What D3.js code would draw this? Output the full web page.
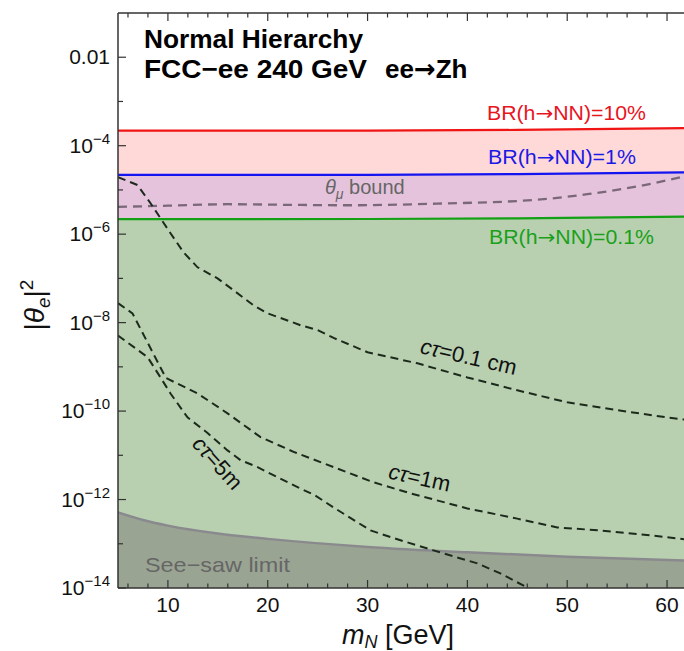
<!DOCTYPE html>
<html><head><meta charset="utf-8">
<script src="https://cdn.jsdelivr.net/npm/d3@7"></script>
<style>
body{margin:0;background:#fff}
svg{display:block}
text{font-family:"Liberation Sans",Arial,Helvetica,sans-serif}
.arr{font-family:"DejaVu Sans",sans-serif}
</style>
</head><body>
<svg id="chart" width="684" height="651"></svg>
<script>
// ---------------- data ----------------
const massBR = [5, 30, 45, 62];
const br10pct = [2.19e-4, 2.2e-4, 2.27e-4, 2.5e-4];
const br1pct = [2.19e-5, 2.2e-5, 2.27e-5, 2.5e-5];
const br01pct = [2.19e-6, 2.2e-6, 2.27e-6, 2.5e-6];

const massThetaMu = [5, 10, 16, 22, 28, 37, 47, 52, 57, 62];
const thetaMuBound = [4.15e-6, 4.4e-6, 4.75e-6, 4.6e-6, 4.5e-6, 4.9e-6, 6.0e-6, 8.0e-6, 1.2e-5, 2.1e-5];

const massSeesaw = [5, 7.5, 10, 15, 20, 30, 40, 50, 62];
const seesawLimit = [5.1e-13, 3.45e-13, 2.57e-13, 1.7e-13, 1.29e-13, 8.5e-14, 6.4e-14, 5.1e-14, 4.15e-14];

const massCt01cm = [5, 6.95, 8.26, 9.26, 10.26, 11.56, 12.97, 14.97, 16.57, 18.58, 19.98, 21.98, 23.3, 25, 26.6, 30, 35, 40, 45, 50, 55, 60, 62];
const ct01cm = [1.95e-5, 1.29e-5, 5.0e-6, 2.29e-6, 1.05e-6, 3.9e-7, 1.78e-7, 1.0e-7, 5.4e-8, 2.45e-8, 1.62e-8, 1.12e-8, 8.7e-9, 6.8e-9, 4.5e-9, 2.14e-9, 1.2e-9, 5.75e-10, 2.95e-10, 1.58e-10, 1.05e-10, 7.2e-11, 6.3e-11];

const massCt1m = [5, 6.45, 9.8, 12.97, 15.97, 19.28, 22.7, 26.6, 30.6, 34.3, 40, 45, 49, 53.3, 58.3, 62];
const ct1m = [2.75e-8, 1.62e-8, 5.6e-10, 2.5e-10, 8.9e-11, 2.57e-11, 1.17e-11, 5.4e-12, 2.45e-12, 1.38e-12, 6.3e-13, 3.7e-13, 2.34e-13, 2.0e-13, 1.55e-13, 1.24e-13];

const massCt5m = [5, 7.96, 9.26, 10.26, 11.96, 13.97, 15.97, 17.27, 18.98, 20.98, 22.99, 24.7, 26.6, 30.3, 33.3, 36.6, 41, 43.3, 46, 47];
const ct5m = [5.1e-9, 1.66e-9, 5.75e-10, 2.5e-10, 7.2e-11, 3.2e-11, 1.29e-11, 7.8e-12, 5.4e-12, 3.2e-12, 1.9e-12, 1.26e-12, 6.6e-13, 2.0e-13, 1.2e-13, 7.1e-14, 3.6e-14, 2.14e-14, 1.02e-14, 8e-15];

const xTicksMajor = [10, 20, 30, 40, 50, 60];
const xTicksMinor = [6, 8, 12, 14, 16, 18, 22, 24, 26, 28, 32, 34, 36, 38, 42, 44, 46, 48, 52, 54, 56, 58, 62];
const yTickExponents = [-2, -4, -6, -8, -10, -12, -14];
const yMinorExponents = [-3, -5, -7, -9, -11, -13];

// ---------------- layout ----------------
const svg = d3.select("#chart");
const L = 118, T = 13, B = 588, R = 687;
const x = d3.scaleLinear().domain([5, 62]).range([L, R]);
const y = d3.scaleLog().domain([1e-14, 1e-1]).range([B, T]);

svg.append("defs").append("clipPath").attr("id", "clip")
  .append("rect").attr("x", L).attr("y", T).attr("width", R - L).attr("height", B - T);

const plot = svg.append("g").attr("clip-path", "url(#clip)");

const zip = (ms, vs) => ms.map((m, i) => [m, vs[i]]);
const line = d3.line().x(d => x(d[0])).y(d => y(d[1]));
const smooth = d3.line().x(d => x(d[0])).y(d => y(d[1])).curve(d3.curveMonotoneX);
const areaDown = d3.area().x(d => x(d[0])).y0(B + 5).y1(d => y(d[1]));
const areaDownSmooth = d3.area().x(d => x(d[0])).y0(B + 5).y1(d => y(d[1])).curve(d3.curveMonotoneX);

// bands
plot.append("path").attr("d", areaDown(zip(massBR, br10pct))).attr("fill", "#ffd8d8");
plot.append("path").attr("d", areaDown(zip(massBR, br1pct))).attr("fill", "#e5c3dc");
plot.append("path").attr("d", areaDown(zip(massBR, br01pct))).attr("fill", "#b8d0b0");

// see-saw
plot.append("path").attr("d", areaDownSmooth(zip(massSeesaw, seesawLimit))).attr("fill", "#9aa493");
plot.append("path").attr("d", smooth(zip(massSeesaw, seesawLimit)))
  .attr("fill", "none").attr("stroke", "#8a8a8e").attr("stroke-width", 2.5);

// theta_mu bound
plot.append("path").attr("d", smooth(zip(massThetaMu, thetaMuBound)))
  .attr("fill", "none").attr("stroke", "#7a6878").attr("stroke-width", 2.3)
  .attr("stroke-dasharray", "9,6");

// c tau curves
[[massCt01cm, ct01cm], [massCt1m, ct1m], [massCt5m, ct5m]].forEach(([ms, vs]) => {
  plot.append("path").attr("d", line(zip(ms, vs)))
    .attr("fill", "none").attr("stroke", "#1c2a1c").attr("stroke-width", 2)
    .attr("stroke-dasharray", "8,5");
});

// BR lines
[[br10pct, "#f01414"], [br1pct, "#1414f0"], [br01pct, "#14a014"]].forEach(([vs, c]) => {
  plot.append("path").attr("d", line(zip(massBR, vs)))
    .attr("fill", "none").attr("stroke", c).attr("stroke-width", 2.2);
});

// ---------------- frame & ticks ----------------
const axCol = "#333";
svg.append("line").attr("x1", L).attr("x2", L).attr("y1", T).attr("y2", B).attr("stroke", axCol).attr("stroke-width", 1.5);
svg.append("line").attr("x1", L).attr("x2", 684).attr("y1", B).attr("y2", B).attr("stroke", axCol).attr("stroke-width", 1.5);
svg.append("line").attr("x1", L).attr("x2", 684).attr("y1", T).attr("y2", T).attr("stroke", axCol).attr("stroke-width", 1.5);

const tk = svg.append("g").attr("stroke", axCol).attr("stroke-width", 1.2);
xTicksMajor.forEach(v => {
  tk.append("line").attr("x1", x(v)).attr("x2", x(v)).attr("y1", B).attr("y2", B - 8);
  tk.append("line").attr("x1", x(v)).attr("x2", x(v)).attr("y1", T).attr("y2", T + 8);
});
xTicksMinor.forEach(v => {
  tk.append("line").attr("x1", x(v)).attr("x2", x(v)).attr("y1", B).attr("y2", B - 4.5);
  tk.append("line").attr("x1", x(v)).attr("x2", x(v)).attr("y1", T).attr("y2", T + 4.5);
});
yTickExponents.forEach(e => {
  tk.append("line").attr("x1", L).attr("x2", L + 8).attr("y1", y(Math.pow(10, e))).attr("y2", y(Math.pow(10, e)));
});
yMinorExponents.forEach(e => {
  tk.append("line").attr("x1", L).attr("x2", L + 5).attr("y1", y(Math.pow(10, e))).attr("y2", y(Math.pow(10, e)));
});

// tick labels
const xl = svg.append("g").attr("font-size", 21).attr("fill", "#111").attr("text-anchor", "middle");
xTicksMajor.forEach(v => xl.append("text").attr("x", x(v)).attr("y", 612).text(v));

const yl = svg.append("g").attr("font-size", 21).attr("fill", "#111").attr("text-anchor", "end");
yTickExponents.forEach(e => {
  const t = yl.append("text").attr("x", 110).attr("y", y(Math.pow(10, e)) + 7);
  if (e === -2) { t.text("0.01"); }
  else {
    t.append("tspan").text("10");
    t.append("tspan").attr("dy", -9).attr("font-size", 15).text("\u2212" + (-e));
  }
});

// axis titles
const xt = svg.append("text").attr("x", 398).attr("y", 644).attr("font-size", 27).attr("text-anchor", "middle").attr("fill", "#111");
xt.append("tspan").attr("font-style", "italic").text("m");
xt.append("tspan").attr("font-style", "italic").attr("font-size", 18).attr("dy", 4).text("N");
xt.append("tspan").attr("dy", -4).text(" [GeV]");

const yt = svg.append("text").attr("transform", "translate(44,305) rotate(-90)").attr("font-size", 28)
  .attr("text-anchor", "middle").attr("fill", "#111");
yt.append("tspan").text("|");
yt.append("tspan").attr("font-style", "italic").text("\u03B8");
yt.append("tspan").attr("font-style", "italic").attr("font-size", 19).attr("dy", 6).text("e");
yt.append("tspan").attr("dy", -6).text("|");
yt.append("tspan").attr("font-size", 19).attr("dy", -11).text("2");

// title
const ttl = svg.append("g").attr("font-size", 26).attr("font-weight", "bold").attr("fill", "#000");
ttl.append("text").attr("x", 144).attr("y", 48).attr("textLength", 219).attr("lengthAdjust", "spacingAndGlyphs").text("Normal Hierarchy");
ttl.append("text").attr("x", 144).attr("y", 78).attr("textLength", 223).attr("lengthAdjust", "spacingAndGlyphs").text("FCC\u2212ee 240 GeV");
const t2 = ttl.append("text").attr("x", 385).attr("y", 78);
t2.append("tspan").text("ee");
t2.append("tspan").attr("class", "arr").text("\u2192");
t2.append("tspan").text("Zh");

// BR labels
function brLabel(x0, y0, len, col, pct) {
  const t = svg.append("text").attr("x", x0).attr("y", y0).attr("font-size", 20).attr("fill", col)
    .attr("textLength", len).attr("lengthAdjust", "spacingAndGlyphs");
  t.append("tspan").text("BR(h");
  t.append("tspan").attr("class", "arr").text("\u2192");
  t.append("tspan").text("NN)=" + pct);
}
brLabel(487, 120, 159, "#e8141e", "10%");
brLabel(488, 164, 148, "#1a1ae6", "1%");
brLabel(489, 244, 165, "#1aa01a", "0.1%");

// theta_mu bound label
const tm = svg.append("text").attr("x", 325).attr("y", 194).attr("font-size", 20).attr("fill", "#666");
tm.append("tspan").attr("font-style", "italic").text("\u03B8");
tm.append("tspan").attr("font-style", "italic").attr("font-size", 14).attr("dy", 5).text("\u03BC");
tm.append("tspan").attr("dy", -5).text(" bound");

// see-saw label
svg.append("text").attr("x", 145).attr("y", 572).attr("font-size", 21).attr("fill", "#666")
  .attr("textLength", 145).attr("lengthAdjust", "spacingAndGlyphs").text("See\u2212saw limit");

// c tau labels
function ctLabel(cx, cy, ang, rest) {
  const t = svg.append("text").attr("transform", `translate(${cx},${cy}) rotate(${ang})`)
    .attr("font-size", 22).attr("text-anchor", "middle").attr("fill", "#111");
  t.append("tspan").attr("font-style", "italic").text("c\u03C4");
  t.append("tspan").text(rest);
}
ctLabel(467, 364, 13, "=0.1 cm");
ctLabel(418, 485, 12.5, "=1m");
ctLabel(212, 468, 48, "=5m");
</script>
</body></html>
